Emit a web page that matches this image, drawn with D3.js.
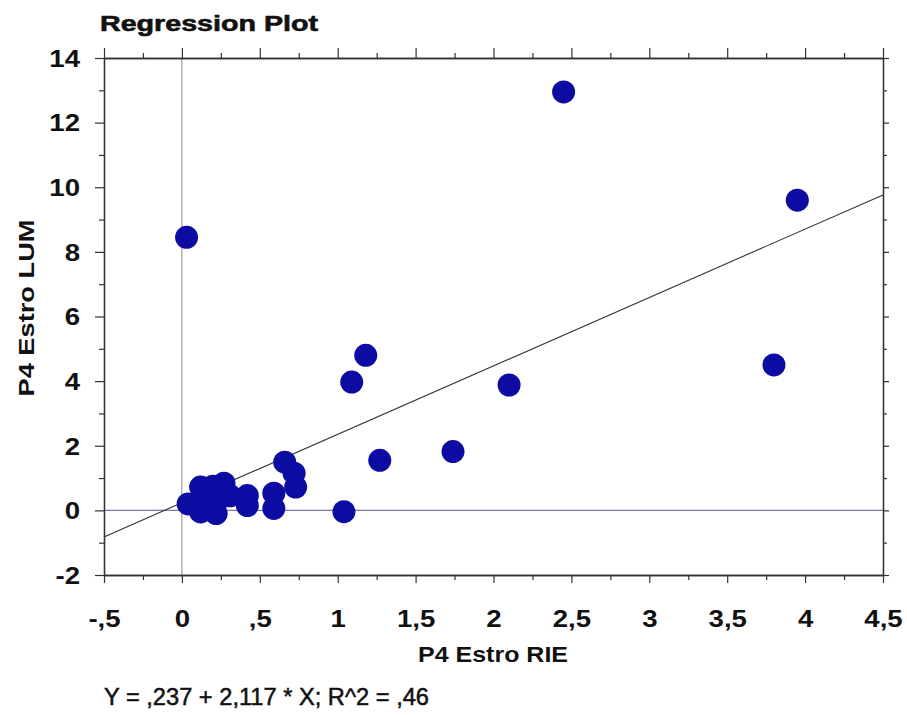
<!DOCTYPE html>
<html>
<head>
<meta charset="utf-8">
<script src="https://cdn.jsdelivr.net/npm/d3@7"></script>
<style>
  body { margin: 0; background: #fff; }
  svg { display: block; font-family: "Liberation Sans", Arial, sans-serif; }
</style>
</head>
<body>
<div id="chart"></div>
<script>
// values
var xValues = [2.45, 3.95, 0.03, 1.18, 1.09, 2.1, 3.8, 1.74, 1.27, 1.04,
  0.66, 0.72, 0.73, 0.59, 0.59, 0.42, 0.42, 0.04, 0.12, 0.12,
  0.27, 0.22, 0.25, 0.17, 0.31, 0.2];
var yValues = [12.95, 9.6, 8.45, 4.8, 3.97, 3.88, 4.5, 1.82, 1.55, -0.04,
  1.49, 1.15, 0.72, 0.53, 0.06, 0.46, 0.15, 0.2, 0.72, -0.05,
  0.84, -0.1, 0.4, 0.35, 0.45, 0.75];
var xTicks = [-0.5, 0, 0.5, 1, 1.5, 2, 2.5, 3, 3.5, 4, 4.5];
var yTicks = [-2, 0, 2, 4, 6, 8, 10, 12, 14];
var intercept = 0.237, slope = 2.117;
var titleText = 'Regression Plot';
var xTitle = 'P4 Estro RIE';
var yTitle = 'P4 Estro LUM';
var eqText = 'Y = ,237 + 2,117 * X; R^2 = ,46';

var W = 907, H = 715;
var m = {left: 104, right: 24, top: 58, bottom: 140};
var w = W - m.left - m.right, h = H - m.top - m.bottom;

var svg = d3.select('#chart').append('svg').attr('width', W).attr('height', H);
var g = svg.append('g').attr('transform', 'translate(' + m.left + ',' + m.top + ')');

var x = d3.scaleLinear().domain([-0.5, 4.5]).range([0, w]);
var y = d3.scaleLinear().domain([-2, 14]).range([h, 0]);

// comma decimal, no leading zero
function fmt(d) {
  return String(d).replace('0.', '.').replace('.', ',');
}

var xMinor = d3.range(-0.25, 4.5, 0.5);
var yMinor = d3.range(-1, 14, 2);

// reference lines at zero
g.append('line')
  .attr('x1', x(0)).attr('x2', x(0)).attr('y1', 0).attr('y2', h)
  .attr('stroke', '#8a8a8a').attr('stroke-width', 1);
g.append('line')
  .attr('x1', 0).attr('x2', w).attr('y1', y(0)).attr('y2', y(0))
  .attr('stroke', '#7a7aa8').attr('stroke-width', 1.2);

// regression line
var line = d3.line().x(function (d) { return x(d); }).y(function (d) { return y(intercept + slope * d); });
g.append('path')
  .attr('d', line(x.domain()))
  .attr('fill', 'none').attr('stroke', '#333').attr('stroke-width', 1.1);

// axes
function styleAxis(sel) {
  sel.selectAll('.domain').attr('stroke', '#333').attr('stroke-width', 1.3);
  sel.selectAll('.tick line').attr('stroke', '#333').attr('stroke-width', 1.2);
}

var xb = g.append('g').attr('transform', 'translate(0,' + h + ')')
  .call(d3.axisBottom(x).tickValues(xTicks).tickFormat(fmt).tickSize(8).tickSizeOuter(0));
xb.call(styleAxis);
xb.selectAll('text')
  .attr('y', 52).attr('dy', null)
  .attr('fill', '#111').style('font-size', '23px').style('font-weight', 'bold')
  .attr('transform', 'scale(1.2,1)');
g.append('g').attr('transform', 'translate(0,' + h + ')')
  .call(d3.axisBottom(x).tickValues(xMinor).tickFormat('').tickSize(5).tickSizeOuter(0))
  .call(styleAxis);

var yl = g.append('g')
  .call(d3.axisLeft(y).tickValues(yTicks).tickFormat(fmt).tickSize(9).tickSizeOuter(0));
yl.call(styleAxis);
yl.selectAll('text')
  .attr('x', -20).attr('dy', '0.36em')
  .attr('fill', '#111').style('font-size', '23px').style('font-weight', 'bold')
  .attr('transform', 'scale(1.2,1)');
g.append('g')
  .call(d3.axisLeft(y).tickValues(yMinor).tickFormat('').tickSize(5).tickSizeOuter(0))
  .call(styleAxis);

var xt = g.append('g')
  .call(d3.axisTop(x).tickValues(xTicks).tickFormat('').tickSize(10).tickSizeOuter(0));
xt.call(styleAxis);
g.append('g')
  .call(d3.axisTop(x).tickValues(xMinor).tickFormat('').tickSize(5).tickSizeOuter(0))
  .call(styleAxis);

var yr = g.append('g').attr('transform', 'translate(' + w + ',0)')
  .call(d3.axisRight(y).tickValues(yTicks).tickFormat('').tickSize(6).tickSizeOuter(0));
yr.call(styleAxis);
g.append('g').attr('transform', 'translate(' + w + ',0)')
  .call(d3.axisRight(y).tickValues(yMinor).tickFormat('').tickSize(4).tickSizeOuter(0))
  .call(styleAxis);

// points
var pts = xValues.map(function (d, i) { return {x: d, y: yValues[i]}; });
g.selectAll('.dot')
  .data(pts)
  .enter()
  .append('circle')
  .attr('class', 'dot')
  .attr('cx', function (d) { return x(d.x); })
  .attr('cy', function (d) { return y(d.y); })
  .attr('r', 11.5)
  .attr('fill', '#0c0ca2');

// texts
svg.append('text')
  .attr('x', 100).attr('y', 31)
  .attr('textLength', 218).attr('lengthAdjust', 'spacingAndGlyphs')
  .style('font-size', '22px').style('font-weight', 'bold').attr('fill', '#111')
  .attr('stroke', '#111').attr('stroke-width', 0.6)
  .text(titleText);

svg.append('text')
  .attr('x', 418).attr('y', 662)
  .attr('textLength', 150).attr('lengthAdjust', 'spacingAndGlyphs')
  .style('font-size', '22px').style('font-weight', 'bold').attr('fill', '#111')
  .text(xTitle);

svg.append('text')
  .attr('transform', 'translate(34,308) rotate(-90)')
  .attr('text-anchor', 'middle')
  .attr('textLength', 177).attr('lengthAdjust', 'spacingAndGlyphs')
  .style('font-size', '22px').style('font-weight', 'bold').attr('fill', '#111')
  .text(yTitle);

svg.append('text')
  .attr('x', 104).attr('y', 705)
  .attr('textLength', 325).attr('lengthAdjust', 'spacingAndGlyphs')
  .style('font-size', '23px').attr('fill', '#111')
  .attr('stroke', '#111').attr('stroke-width', 0.5)
  .text(eqText);
</script>
</body>
</html>
